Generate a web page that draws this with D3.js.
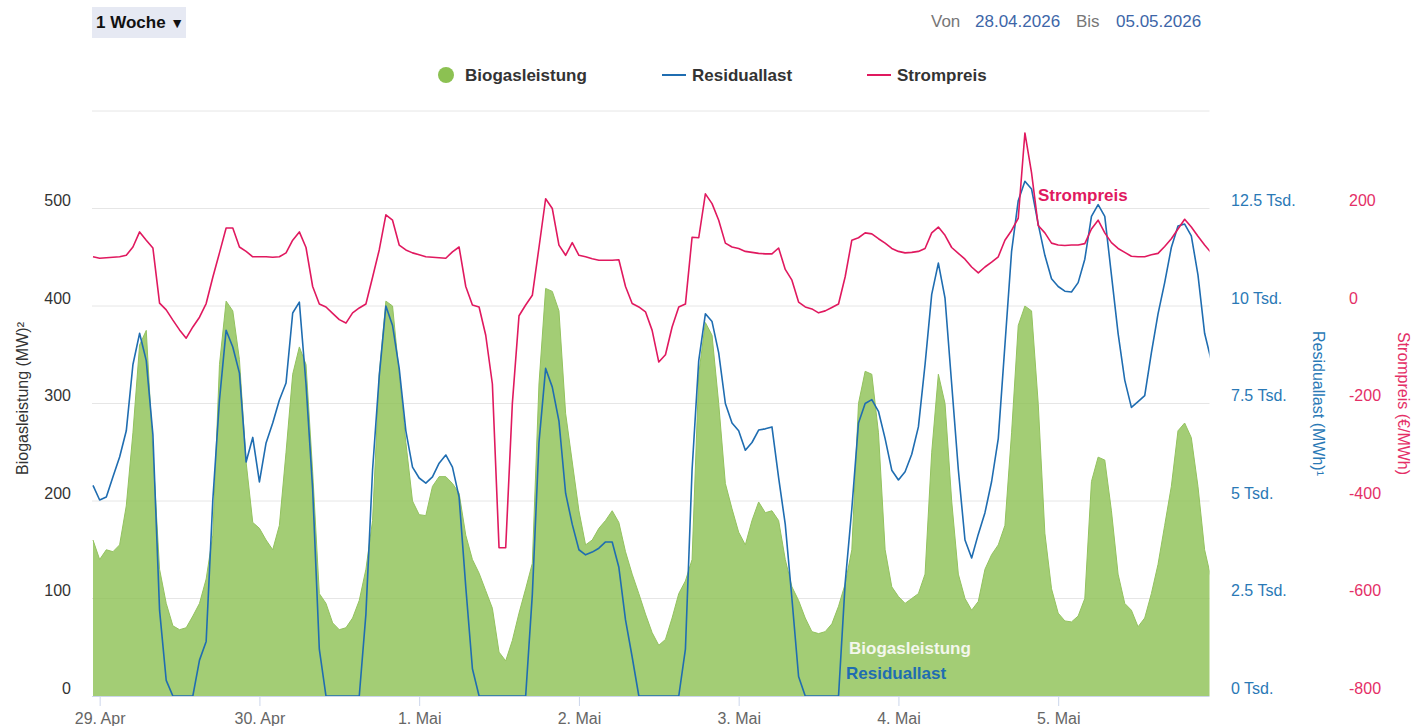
<!DOCTYPE html>
<html><head><meta charset="utf-8">
<script src="https://cdn.jsdelivr.net/npm/d3@7"></script>
<style>
body{margin:0;background:#fff;}
svg{font-family:"Liberation Sans",Arial,Helvetica,sans-serif;display:block;}
</style>
</head><body>
<svg id="chart" width="1414" height="726"></svg>
<script>
// ---------- DATA (hourly, first value = 28.04.2026 23:00) ----------
const startTime = Date.UTC(2026, 3, 28, 23);
const stepHours = 1;

// Biogasleistung (MW)
const biogas = [
  160, 140,150,148,155,195,270,360,375,250,130,95,72,68,70,82,95,120,165,340,405,395,345,240,178,
  172,160,150,175,250,330,358,340,230,105,95,75,68,70,80,98,130,180,330,405,400,330,260,200,
  186,185,215,225,225,218,208,165,140,126,108,90,45,36,57,85,110,136,320,418,415,395,290,240,
  190,155,160,172,180,190,178,148,125,105,84,65,52,58,80,105,118,140,330,383,370,300,218,192,
  168,155,180,199,188,190,180,140,112,98,80,66,64,66,74,92,115,150,300,333,330,270,150,112,
  102,95,100,105,125,250,330,300,200,125,100,88,97,130,145,155,175,270,380,400,395,300,167,110,
  85,77,76,82,100,220,245,242,190,125,95,88,71,80,105,135,175,215,272,280,265,215,150,120
];

// Residuallast (MWh)
const residual = [
  5400, 5025,5100,5620,6130,6800,8500,9300,8600,6700,2200,400,0,0,0,0,920,1400,5025,7590,9380,8950,8280,6000,6630,
  5490,6490,7000,7590,8025,9820,10100,8000,5300,1200,0,0,0,0,0,0,2100,5800,8200,10000,9500,8400,6800,5870,
  5590,5460,5620,5970,6180,5870,5100,2800,700,0,0,0,0,0,0,0,0,2600,6500,8400,7920,7050,5200,4400,
  3750,3620,3690,3790,3950,3950,3300,1950,1000,0,0,0,0,0,0,0,1200,5800,8600,9800,9600,8800,7500,7000,
  6800,6300,6500,6820,6850,6900,5600,4400,2500,500,0,0,0,0,0,0,2900,4800,7000,7500,7600,7300,6600,5790,
  5540,5750,6200,6900,8500,10300,11100,10200,8000,5800,4000,3540,4150,4700,5500,6600,9000,11400,12700,13200,13000,12100,11300,10700,
  10500,10380,10360,10600,11200,12300,12600,12300,10800,9300,8100,7400,7550,7700,8800,9800,10600,11500,12050,12100,11800,10800,9300,8600
];

// Strompreis (€/MWh)
const price = [
  101, 98,99,100,101,104,121,152,135,119,6,-8,-29,-49,-66,-43,-23,5,59,109,160,160,121,112,101,
  101,101,100,101,109,135,152,120,40,4,-2,-15,-28,-35,-14,-4,4,59,115,187,176,125,115,109,
  105,101,100,99,98,111,121,40,2,-2,-60,-160,-496,-496,-200,-20,2,22,120,220,200,125,104,130,
  104,101,97,94,94,94,95,40,5,-2,-12,-50,-115,-100,-43,-2,4,141,140,230,210,176,129,121,
  118,112,110,108,107,107,119,75,53,8,-2,-6,-14,-10,-3,4,60,135,140,150,148,138,129,118,
  112,109,110,112,118,150,162,145,120,108,96,80,68,80,90,101,135,155,180,355,273,165,150,129,
  125,124,125,125,128,158,176,150,130,118,110,102,101,101,105,108,122,138,158,178,162,143,125,109
];

const dayTickDates = ["2026-04-29","2026-04-30","2026-05-01","2026-05-02","2026-05-03","2026-05-04","2026-05-05"];
const dayTickLabels = ["29. Apr","30. Apr","1. Mai","2. Mai","3. Mai","4. Mai","5. Mai"];
const biogasTicks = [0,100,200,300,400,500];
const residualTicks = [0,2500,5000,7500,10000,12500];
const priceTicks = [-800,-600,-400,-200,0,200];
const gridTicks = [0,100,200,300,400,500,600];

// ---------- LAYOUT ----------
const plot = {left: 92, right: 1209.5, top: 111, bottom: 696};
const colGreen = "#8cc152", colBlue = "#1f6db1", colRed = "#e0195f";
const colBlueTxt = "#2a79b6", colRedTxt = "#e42f67";
const FF = "Liberation Sans, Arial, sans-serif";

const svg = d3.select("#chart");

const x = d3.scaleUtc()
  .domain([new Date(Date.UTC(2026,3,28,22,51)), new Date(Date.UTC(2026,4,5,22,44))])
  .range([plot.left, plot.right]);
const yB = d3.scaleLinear().domain([0,600]).range([plot.bottom, plot.top]);
const yR = d3.scaleLinear().domain([0,15000]).range([plot.bottom, plot.top]);
const yP = d3.scaleLinear().domain([-800,400]).range([plot.bottom, plot.top]);

const times = biogas.map((_, i) => new Date(startTime + i * stepHours * 3600000));

// ---------- HEADER ----------
svg.append("rect").attr("x",92).attr("y",7).attr("width",94).attr("height",31)
  .attr("fill","#e6e9f3");
const btn = svg.append("text").attr("x",96).attr("y",28).attr("font-size",17).attr("font-weight","bold")
  .attr("fill","#111");
btn.append("tspan").text("1 Woche ");
btn.append("tspan").attr("font-size",14).text("\u25BC");

const hdr = svg.append("text").attr("y",27).attr("font-size",17);
hdr.append("tspan").attr("x",931).attr("fill","#777").text("Von");
hdr.append("tspan").attr("x",975).attr("fill","#3d66a8").text("28.04.2026");
hdr.append("tspan").attr("x",1076).attr("fill","#777").text("Bis");
hdr.append("tspan").attr("x",1116).attr("fill","#3d66a8").text("05.05.2026");

// ---------- LEGEND ----------
const lg = svg.append("g").attr("font-size",17).attr("font-weight","bold").attr("fill","#333");
lg.append("circle").attr("cx",446).attr("cy",75).attr("r",8).attr("fill",colGreen);
lg.append("text").attr("x",465).attr("y",81).text("Biogasleistung");
lg.append("line").attr("x1",662).attr("x2",686).attr("y1",75).attr("y2",75).attr("stroke",colBlue).attr("stroke-width",2);
lg.append("text").attr("x",692).attr("y",81).text("Residuallast");
lg.append("line").attr("x1",867).attr("x2",891).attr("y1",75).attr("y2",75).attr("stroke",colRed).attr("stroke-width",2);
lg.append("text").attr("x",897).attr("y",81).text("Strompreis");

// ---------- GRID ----------
svg.append("g").selectAll("line").data(gridTicks.filter(d=>d>0)).join("line")
  .attr("x1",plot.left).attr("x2",plot.right)
  .attr("y1",d=>yB(d)).attr("y2",d=>yB(d))
  .attr("stroke","#e6e6e6").attr("stroke-width",1);

// ---------- SERIES ----------
svg.append("clipPath").attr("id","clip").append("rect")
  .attr("x",plot.left).attr("y",plot.top-30).attr("width",plot.right-plot.left).attr("height",plot.bottom-plot.top+30);

const gS = svg.append("g").attr("clip-path","url(#clip)");

const area = d3.area().x((d,i)=>x(times[i])).y0(yB(0)).y1(d=>yB(d));
gS.append("path").datum(biogas).attr("d",area).attr("fill",colGreen).attr("fill-opacity",0.8);
gS.append("path").datum(biogas).attr("d",d3.line().x((d,i)=>x(times[i])).y(d=>yB(d)))
  .attr("fill","none").attr("stroke","#93c25f").attr("stroke-width",1);

gS.append("path").datum(residual).attr("d",d3.line().x((d,i)=>x(times[i])).y(d=>yR(d)))
  .attr("fill","none").attr("stroke",colBlue).attr("stroke-width",1.6).attr("stroke-linejoin","round");

gS.append("path").datum(price).attr("d",d3.line().x((d,i)=>x(times[i])).y(d=>yP(d)))
  .attr("fill","none").attr("stroke",colRed).attr("stroke-width",1.6).attr("stroke-linejoin","round");

// ---------- X AXIS ----------
const xAxis = d3.axisBottom(x)
  .tickValues(dayTickDates.map(s=>new Date(s+"T00:00:00Z")))
  .tickFormat((d,i)=>dayTickLabels[i])
  .tickSize(10).tickPadding(7);
const gx = svg.append("g").attr("transform",`translate(0,${plot.bottom})`).call(xAxis);
gx.select(".domain").attr("stroke","#ccd6eb").attr("d",`M${plot.left},0.5H${plot.right}`);
gx.selectAll(".tick line").attr("stroke","#ccd6eb");
gx.selectAll(".tick text").attr("font-size",16).attr("fill","#666").attr("font-family",FF);

// ---------- Y AXES ----------
const yAxisL = d3.axisLeft(yB).tickValues(biogasTicks).tickSize(0).tickPadding(0).tickFormat(d=>String(d));
const gl = svg.append("g").attr("transform","translate(71,0)").call(yAxisL);
gl.select(".domain").remove();
gl.selectAll(".tick text").attr("font-size",16).attr("fill","#333").attr("dy","-3").attr("font-family",FF);

const yAxisR = d3.axisRight(yR).tickValues(residualTicks).tickSize(0).tickPadding(0)
  .tickFormat(d=>(d/1000)+" Tsd.");
const gr = svg.append("g").attr("transform","translate(1231,0)").call(yAxisR);
gr.select(".domain").remove();
gr.selectAll(".tick text").attr("font-size",16).attr("fill",colBlueTxt).attr("dy","-3").attr("font-family",FF);

const yAxisP = d3.axisRight(yP).tickValues(priceTicks).tickSize(0).tickPadding(0).tickFormat(d=>String(d));
const gp = svg.append("g").attr("transform","translate(1349,0)").call(yAxisP);
gp.select(".domain").remove();
gp.selectAll(".tick text").attr("font-size",16).attr("fill",colRedTxt).attr("dy","-3").attr("font-family",FF);

// axis titles
const midY = (plot.top+plot.bottom)/2;
svg.append("text").attr("transform",`translate(28,${midY-5}) rotate(-90)`).attr("text-anchor","middle")
  .attr("font-size",16).attr("fill","#333").text("Biogasleistung (MW)\u00B2");
svg.append("text").attr("transform",`translate(1313,${midY}) rotate(90)`).attr("text-anchor","middle")
  .attr("font-size",16).attr("fill",colBlueTxt).text("Residuallast (MWh)\u00B9");
svg.append("text").attr("transform",`translate(1398,${midY}) rotate(90)`).attr("text-anchor","middle")
  .attr("font-size",16).attr("fill",colRedTxt).text("Strompreis (\u20AC/MWh)");

// series labels
svg.append("text").attr("x",1038).attr("y",201).attr("font-size",17).attr("font-weight","bold")
  .attr("fill",colRed).text("Strompreis");
svg.append("text").attr("x",849).attr("y",654).attr("font-size",17).attr("font-weight","bold")
  .attr("fill","#f3f7ec").text("Biogasleistung");
svg.append("text").attr("x",846).attr("y",679).attr("font-size",17).attr("font-weight","bold")
  .attr("fill",colBlue).text("Residuallast");
</script>
</body></html>
